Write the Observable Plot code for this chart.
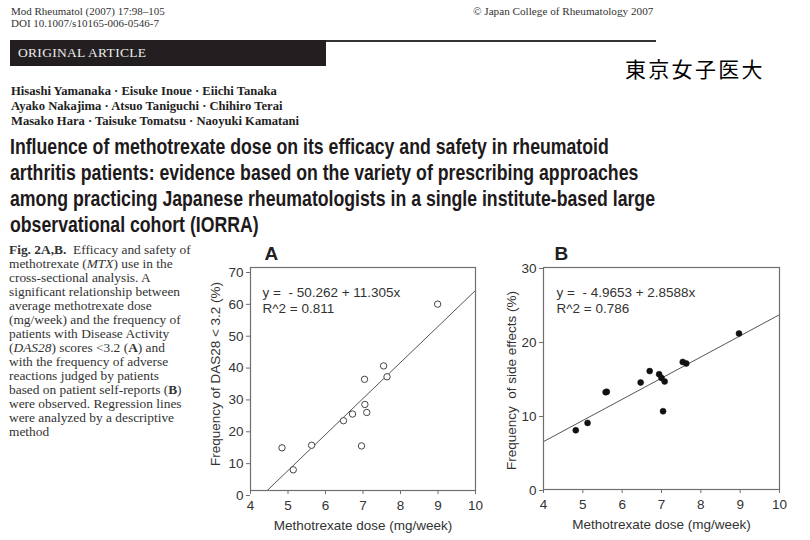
<!DOCTYPE html>
<html><head><meta charset="utf-8">
<script src="https://cdn.jsdelivr.net/npm/d3@7"></script>
<script src="https://cdn.jsdelivr.net/npm/@observablehq/plot@0.6"></script>
<style>
body{margin:0;background:#fff;}
#page{position:relative;width:810px;height:540px;overflow:hidden;background:#fff;color:#333;}
.abs{position:absolute;white-space:nowrap;}
.serif{font-family:"Liberation Serif","Times New Roman",serif;}
#hdr1{left:11px;top:5px;font-size:11px;line-height:12px;}
#hdr2{left:473px;top:5px;font-size:11.2px;line-height:12px;}
#bar{left:10px;top:40px;width:316px;height:26px;background:#231f20;}
#bartxt{left:18px;top:44px;font-size:13.5px;line-height:18px;color:#ececec;letter-spacing:0.3px;}
#rule{left:326px;top:40px;width:330px;height:2px;background:#333;}
#jp{left:625px;top:55px;font-family:"Noto Sans CJK JP",sans-serif;font-size:21px;line-height:26px;letter-spacing:2.3px;color:#000;}
#authors{left:11px;top:84px;font-size:12.6px;line-height:15px;font-weight:bold;color:#222;}
#title{left:10px;top:134px;font-family:"Liberation Sans",Arial,sans-serif;font-weight:bold;font-size:22px;line-height:26px;color:#1e1a1b;}
#title span{display:block;transform-origin:0 50%;white-space:nowrap;}
#caption{left:9px;top:243px;font-size:13.4px;line-height:14px;color:#333;}
.plot{position:absolute;}
svg text{white-space:pre;}
</style></head><body><div id="page">
<div id="hdr1" class="abs serif">Mod Rheumatol (2007) 17:98–105<br>DOI 10.1007/s10165-006-0546-7</div>
<div id="hdr2" class="abs serif">© Japan College of Rheumatology 2007</div>
<div id="bar" class="abs"></div>
<div id="bartxt" class="abs serif">ORIGINAL ARTICLE</div>
<div id="rule" class="abs"></div>
<div id="jp" class="abs">東京女子医大</div>
<div id="authors" class="abs serif">Hisashi Yamanaka · Eisuke Inoue · Eiichi Tanaka<br>Ayako Nakajima · Atsuo Taniguchi · Chihiro Terai<br>Masako Hara · Taisuke Tomatsu · Naoyuki Kamatani</div>
<div id="title" class="abs"><span>Influence of methotrexate dose on its efficacy and safety in rheumatoid</span><span>arthritis patients: evidence based on the variety of prescribing approaches</span><span>among practicing Japanese rheumatologists in a single institute-based large</span><span>observational cohort (IORRA)</span></div>
<div id="caption" class="abs serif"><b>Fig. 2A,B.</b>&nbsp; Efficacy and safety of<br>methotrexate (<i>MTX</i>) use in the<br>cross-sectional analysis. A<br>significant relationship between<br>average methotrexate dose<br>(mg/week) and the frequency of<br>patients with Disease Activity<br>(<i>DAS28</i>) scores &lt;3.2 (<b>A</b>) and<br>with the frequency of adverse<br>reactions judged by patients<br>based on patient self-reports (<b>B</b>)<br>were observed. Regression lines<br>were analyzed by a descriptive<br>method</div>
<div id="plotA" class="plot" style="left:200px;top:240px;"></div>
<div id="plotB" class="plot" style="left:490px;top:240px;"></div>
</div>
<script>
// ---- data ----
const xTicks = [4, 5, 6, 7, 8, 9, 10];
const xLabel = "Methotrexate dose (mg/week)";

const doseA = [4.84, 5.14, 5.63, 6.48, 6.72, 6.96, 7.04, 7.05, 7.10, 7.55, 7.64, 8.99];
const das28A = [13.4, 6.5, 14.2, 21.9, 24.0, 14.0, 34.9, 27.0, 24.5, 39.1, 35.7, 58.5];
const yTicksA = [0, 10, 20, 30, 40, 50, 60, 70];
const yLabelA = "Frequency of DAS28 < 3.2 (%)";
const coefA = [-50.262, 11.305];
const eqA = ["y =  - 50.262 + 11.305x", "R^2 = 0.811"];

const doseB = [4.82, 5.12, 5.58, 5.61, 6.47, 6.70, 6.94, 7.00, 7.08, 7.04, 7.54, 7.63, 8.97];
const sideB = [8.0, 9.0, 13.15, 13.2, 14.46, 16.0, 15.58, 15.08, 14.6, 10.58, 17.24, 17.03, 21.08];
const yTicksB = [0, 10, 20, 30];
const yLabelB = "Frequency  of side effects (%)";
const coefB = [-4.9653, 2.8588];
const eqB = ["y =  - 4.9653 + 2.8588x", "R^2 = 0.786"];

function panel(o) {
  const pts = o.xs.map((x, i) => ({x, y: o.ys[i]}));
  const xd = [xTicks[0], xTicks[xTicks.length - 1]];
  const line = xd.map(x => ({x, y: o.coef[0] + o.coef[1] * x}));
  const axisColor = "#6f6f6f";
  const fmt = d => String(d);
  return Plot.plot({
    width: o.width, height: 300,
    marginLeft: o.ml, marginRight: o.mr, marginTop: 27, marginBottom: o.mb,
    x: {domain: xd},
    y: {domain: [o.yTicks[0], o.yTicks[o.yTicks.length - 1]]},
    style: {fontFamily: "'Liberation Sans', Arial, sans-serif", fontSize: "13px", color: "#333", background: "transparent", overflow: "visible"},
    marks: [
      Plot.line(line, {x: "x", y: "y", stroke: "#555", strokeWidth: 1, clip: true}),
      o.filled
        ? Plot.dot(pts, {x: "x", y: "y", r: 3, fill: "#111", stroke: "#111", strokeWidth: 0.5})
        : Plot.dot(pts, {x: "x", y: "y", r: 3.2, fill: "white", stroke: "#444", strokeWidth: 1}),
      Plot.frame({stroke: axisColor, strokeWidth: 1.2}),
      Plot.axisX({ticks: xTicks, tickFormat: fmt, tickSize: 4, tickPadding: 6, stroke: axisColor, label: null, fill: "#333", fontSize: 13.5}),
      Plot.axisY({ticks: o.yTicks, tickFormat: fmt, tickSize: 4, tickPadding: 3, stroke: axisColor, label: null, fill: "#333", fontSize: 13.5, dy: o.yDy}),
      Plot.text([xLabel], {text: d => d, frameAnchor: "bottom", textAnchor: "middle", dy: 35, lineAnchor: "middle", fontSize: 13.5, fill: "#333"}),
      Plot.text([o.yLabel], {text: d => d, frameAnchor: "left", textAnchor: "middle", rotate: -90, dx: o.ylDx, dy: o.ylDy, lineAnchor: "middle", fontSize: 13.5, fill: "#333"}),
      Plot.text([o.eq[0]], {text: d => d, frameAnchor: "top-left", textAnchor: "start", lineAnchor: "middle", dx: o.eqDx, dy: 25, fontSize: 13.5, fill: "#333"}),
      Plot.text([o.eq[1]], {text: d => d, frameAnchor: "top-left", textAnchor: "start", lineAnchor: "middle", dx: o.eqDx, dy: 41, fontSize: 13.5, fill: "#333"}),
      Plot.text([o.letter], {text: d => d, frameAnchor: "top-left", textAnchor: "start", dx: o.letDx, dy: -14, lineAnchor: "middle", fontSize: 19, fontWeight: "bold", fill: "#222"})
    ]
  });
}

const A = panel({xs: doseA, ys: das28A, yTicks: yTicksA, yLabel: yLabelA, coef: coefA, eq: eqA,
  filled: false, width: 290, ml: 50, mr: 15, mb: 50, yDy: 5, ylDx: -35, ylDy: -5, eqDx: 12, letDx: 14, letter: "A"});
const B = panel({xs: doseB, ys: sideB, yTicks: yTicksB, yLabel: yLabelB, coef: coefB, eq: eqB,
  filled: true, width: 320, ml: 53, mr: 31, mb: 51, yDy: 1, ylDx: -32, ylDy: 2, eqDx: 13, letDx: 11, letter: "B"});

document.getElementById("plotA").append(A);
document.getElementById("plotB").append(B);

// condense title lines to the printed width
const spans = document.querySelectorAll("#title span");
const w3 = spans[2].getBoundingClientRect().width;
const s = 645 / w3;
spans.forEach(sp => { sp.style.transform = `scaleX(${s})`; });
</script>
</body></html>
